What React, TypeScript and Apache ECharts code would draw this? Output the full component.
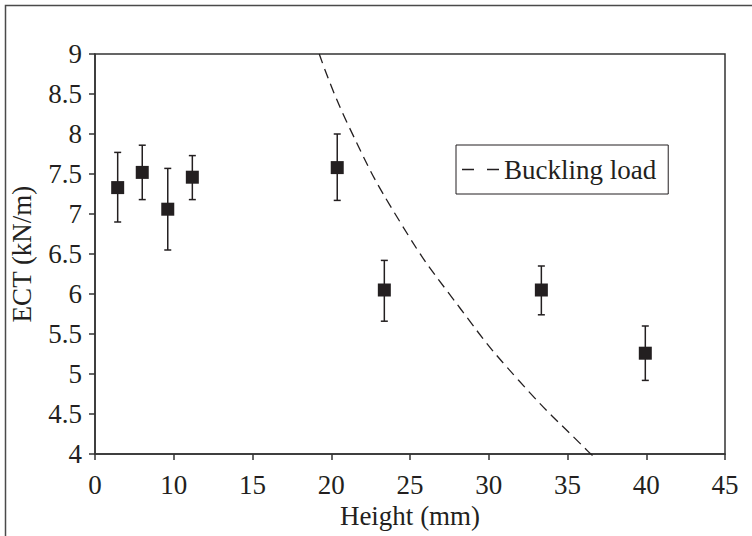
import React, { useEffect, useRef } from "react";
import * as echarts from "echarts";

// x positions are in axis units (axis ticks every 5 units, labelled by xTickLabels)
const xTickLabels = ["0", "10", "15", "20", "25", "30", "35", "40", "45"];
const pointX = [1.44, 3.0, 4.62, 6.18, 15.38, 18.37, 28.34, 34.94];
const ectMean = [7.33, 7.52, 7.06, 7.46, 7.58, 6.05, 6.05, 5.26];
const ectHigh = [7.77, 7.86, 7.57, 7.73, 8.0, 6.42, 6.35, 5.6];
const ectLow = [6.9, 7.18, 6.55, 7.18, 7.17, 5.66, 5.74, 4.92];

const bucklingX = [14.24, 16.08, 19.37, 23.17, 26.88, 31.32, 31.87];
const bucklingY = [9.0, 8.11, 6.9, 5.825, 4.925, 4.03, 3.94];

const INK = "#231f20";
const FONT = "Liberation Serif";
const FS = 27;

export default function App() {
  const ref = useRef<HTMLDivElement>(null);
  useEffect(() => {
    if (!ref.current) return;
    const chart = echarts.init(ref.current, undefined, { renderer: "svg" });
    const points = pointX.map((x, i) => [x, ectMean[i]]);
    const bars = pointX.map((x, i) => [x, ectLow[i], ectHigh[i]]);
    const curve = bucklingX.map((x, i) => [x, bucklingY[i]]);
    chart.setOption({
      animation: false,
      backgroundColor: "#ffffff",
      textStyle: { fontFamily: FONT, color: INK },
      graphic: [
        {
          type: "rect",
          shape: { x: 5.5, y: 5.5, width: 800, height: 600 },
          style: { fill: "none", stroke: "#4a4a4a", lineWidth: 1.5 },
          silent: true,
        },
      ],
      grid: {
        left: 95,
        top: 54,
        right: 27,
        bottom: 82,
        show: true,
        borderColor: "#333",
        borderWidth: 1.5,
        backgroundColor: "transparent",
      },
      legend: {
        data: [
          {
            name: "Buckling load",
            icon: "path://M0,0h12v1.5h-12zM25,0h12v1.5h-12z",
          },
        ],
        left: 456,
        top: 145,
        orient: "horizontal",
        padding: [11, 12, 11, 6],
        itemWidth: 37,
        itemHeight: 1.5,
        itemGap: 7,
        borderColor: INK,
        borderWidth: 1,
        backgroundColor: "#fff",
        itemStyle: { color: INK },
        textStyle: { fontFamily: FONT, fontSize: FS, color: INK },
      },
      xAxis: {
        type: "value",
        min: 0,
        max: 40,
        interval: 5,
        name: "Height (mm)",
        nameLocation: "middle",
        nameGap: 48,
        nameTextStyle: { fontFamily: FONT, fontSize: FS, color: INK },
        axisLine: { show: true, onZero: false, lineStyle: { color: "#333", width: 1.5 } },
        axisTick: { show: true, inside: false, length: 6, lineStyle: { color: "#333", width: 1.5 } },
        axisLabel: {
          margin: 17,
          fontFamily: FONT,
          fontSize: FS,
          color: INK,
          formatter: (v: number) => xTickLabels[Math.round(v / 5)] ?? "",
        },
        splitLine: { show: false },
      },
      yAxis: {
        type: "value",
        min: 4,
        max: 9,
        interval: 0.5,
        name: "ECT (kN/m)",
        nameLocation: "middle",
        nameGap: 60,
        nameTextStyle: { fontFamily: FONT, fontSize: FS, color: INK },
        axisLine: { show: true, onZero: false, lineStyle: { color: "#333", width: 1.5 } },
        axisTick: { show: true, inside: false, length: 6, lineStyle: { color: "#333", width: 1.5 } },
        axisLabel: { margin: 13, fontFamily: FONT, fontSize: FS, color: INK },
        splitLine: { show: false },
      },
      series: [
        {
          name: "errors",
          type: "custom",
          data: bars,
          z: 2,
          renderItem: (params: any, api: any) => {
            const x = api.value(0);
            const lo = api.coord([x, api.value(1)]);
            const hi = api.coord([x, api.value(2)]);
            const hw = 3.5;
            const style = { stroke: INK, lineWidth: 1.5 };
            return {
              type: "group",
              children: [
                { type: "line", shape: { x1: hi[0], y1: hi[1], x2: lo[0], y2: lo[1] }, style },
                { type: "line", shape: { x1: hi[0] - hw, y1: hi[1], x2: hi[0] + hw, y2: hi[1] }, style },
                { type: "line", shape: { x1: lo[0] - hw, y1: lo[1], x2: lo[0] + hw, y2: lo[1] }, style },
              ],
            };
          },
        },
        {
          name: "ECT",
          type: "scatter",
          data: points,
          symbol: "rect",
          symbolSize: 13,
          itemStyle: { color: INK, opacity: 1 },
          z: 3,
        },
        {
          name: "Buckling load",
          type: "line",
          data: curve,
          smooth: 0.5,
          symbol: "none",
          showSymbol: false,
          clip: false,
          lineStyle: { color: INK, width: 1.3, type: [10, 6] },
          itemStyle: { color: INK },
          z: 2,
        },
      ],
    });
    return () => chart.dispose();
  }, []);
  return (
    <div
      ref={ref}
      style={{ position: "fixed", left: 0, top: 0, width: 752, height: 536 }}
    />
  );
}
